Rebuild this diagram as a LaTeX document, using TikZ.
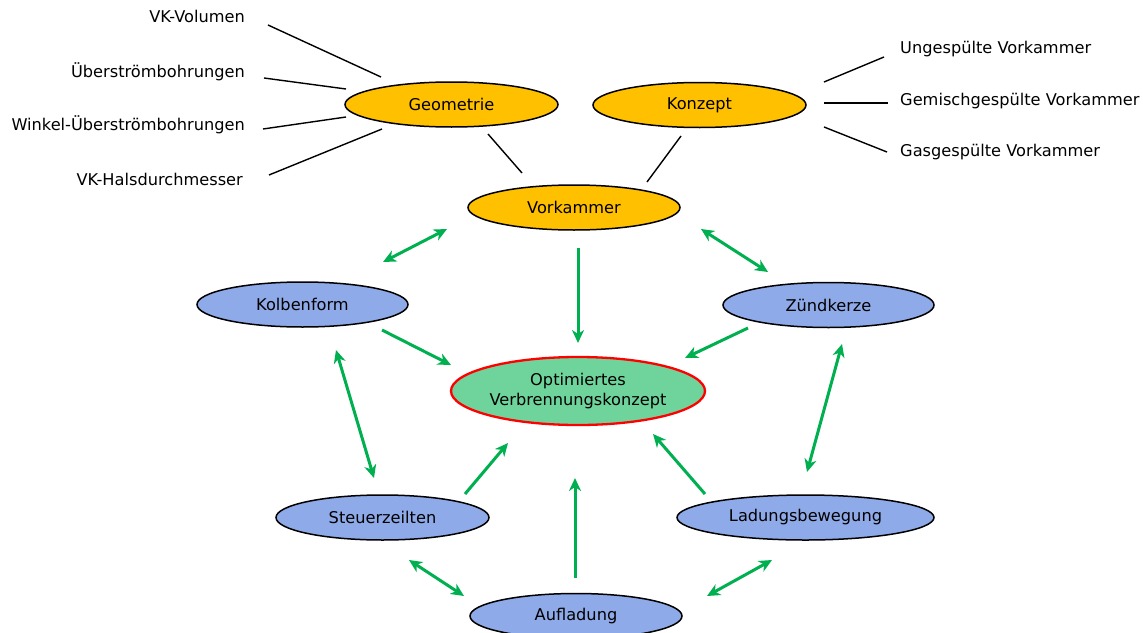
\documentclass[tikz,border=0pt]{standalone}
\usepackage{fontspec}
\setmainfont{DejaVu Sans}
\usetikzlibrary{shapes.geometric,arrows.meta}
\definecolor{orf}{HTML}{FFC000}
\definecolor{blf}{HTML}{8FAAE8}
\definecolor{grf}{HTML}{6FD49B}
\definecolor{arr}{HTML}{00B050}
\begin{document}
\begin{tikzpicture}[x=1pt,y=-1pt,
  ell/.style={ellipse,draw=black,line width=1.5pt,inner sep=0pt,align=center,
    font=\fontsize{16.2}{20}\selectfont},
  orange/.style={ell,fill=orf,minimum width=213pt,minimum height=45pt},
  blue/.style={ell,fill=blf,minimum height=45pt},
  lbl/.style={inner sep=0pt,font=\fontsize{16.2}{20}\selectfont},
  thin/.style={draw=black,line width=1.4pt},
  garr/.style={draw=arr,line width=3pt,-{Stealth[length=13pt,width=12pt,inset=4pt]}},
  garrb/.style={draw=arr,line width=3pt,{Stealth[length=13pt,width=12pt,inset=4pt]}-{Stealth[length=13pt,width=12pt,inset=4pt]}}
]
\useasboundingbox (0,0) rectangle (1143,632);

% ellipses
\node[orange] (geo) at (451.5,104.5) {Geometrie};
\node[orange] (kon) at (699.5,105) {Konzept};
\node[orange,minimum width=212pt] (vk) at (574,207.5) {Vorkammer};
\node[ell,fill=grf,draw=red,line width=2.3pt,minimum width=254pt,minimum height=68pt] (opt) at (578,391) {Optimiertes\\Verbrennungskonzept};
\node[blue,minimum width=211pt] (kol) at (302.5,304.5) {Kolbenform};
\node[blue,minimum width=211pt] (zk) at (828.5,305) {Zündkerze};
\node[blue,minimum width=213pt] (st) at (382.5,517.5) {Steuerzeilten};
\node[blue,minimum width=257pt] (lb) at (805.5,517.5) {Ladungsbewegung};
\node[blue,minimum width=212pt] (auf) at (576,616) {Aufladung};

% labels
\node[lbl,anchor=mid east] (l1) at (245,20) {VK-Volumen};
\node[lbl,anchor=mid east] (l2) at (245,75) {Überströmbohrungen};
\node[lbl,anchor=mid east] (l3) at (245,128) {Winkel-Überströmbohrungen};
\node[lbl,anchor=mid east] (l4) at (243,183) {VK-Halsdurchmesser};
\node[lbl,anchor=mid west] (r1) at (900,51) {Ungespülte Vorkammer};
\node[lbl,anchor=mid west] (r2) at (900,103) {Gemischgespülte Vorkammer};
\node[lbl,anchor=mid west] (r3) at (900,154) {Gasgespülte Vorkammer};

% black lines
\draw[thin] ([shift={(23,5)}]l1.mid east) -- ([shift={(-70.5,-27.5)}]geo.center);
\draw[thin] ([shift={(19,3)}]l2.mid east) -- ([shift={(-105.5,-15.5)}]geo.center);
\draw[thin] ([shift={(18,1)}]l3.mid east) -- ([shift={(-105.5,12.5)}]geo.center);
\draw[thin] ([shift={(26,-8)}]l4.mid east) -- ([shift={(-69.5,24.5)}]geo.center);
\draw[thin] ([shift={(36.5,29.5)}]geo.center) -- ([shift={(-52,-34.5)}]vk.center);
\draw[thin] ([shift={(-18.5,31)}]kon.center) -- ([shift={(73,-25.5)}]vk.center);
\draw[thin] ([shift={(124.5,-23)}]kon.center) -- ([shift={(-16,6)}]r1.mid west);
\draw[thin] ([shift={(124.5,-2)}]kon.center) -- ([shift={(-12,0)}]r2.mid west);
\draw[thin] ([shift={(124.5,22)}]kon.center) -- ([shift={(-13,-2)}]r3.mid west);

% green arrows
\draw[garrb] ([shift={(-127,21.5)}]vk.center) -- ([shift={(80.5,-42.5)}]kol.center);
\draw[garrb] ([shift={(127,21.5)}]vk.center) -- ([shift={(-60.5,-33)}]zk.center);
\draw[garr] ([shift={(4,40.5)}]vk.center) -- ([shift={(0,-48)}]opt.center);
\draw[garr] ([shift={(79.5,25.5)}]kol.center) -- ([shift={(-127,-26)}]opt.center);
\draw[garr] ([shift={(-80.5,23)}]zk.center) -- ([shift={(107,-33)}]opt.center);
\draw[garrb] ([shift={(33.5,45.5)}]kol.center) -- ([shift={(-8.5,-39.5)}]st.center);
\draw[garrb] ([shift={(13.5,39)}]zk.center) -- ([shift={(1.5,-45.5)}]lb.center);
\draw[garr] ([shift={(82.5,-23.5)}]st.center) -- ([shift={(-70,52)}]opt.center);
\draw[garr] ([shift={(-100.5,-23.5)}]lb.center) -- ([shift={(75,43)}]opt.center);
\draw[garr] ([shift={(-1,-38)}]auf.center) -- ([shift={(-3,87)}]opt.center);
\draw[garrb] ([shift={(26.5,42.5)}]st.center) -- ([shift={(-112,-20)}]auf.center);
\draw[garrb] ([shift={(-33.5,42.5)}]lb.center) -- ([shift={(131,-20)}]auf.center);
\end{tikzpicture}
\end{document}
